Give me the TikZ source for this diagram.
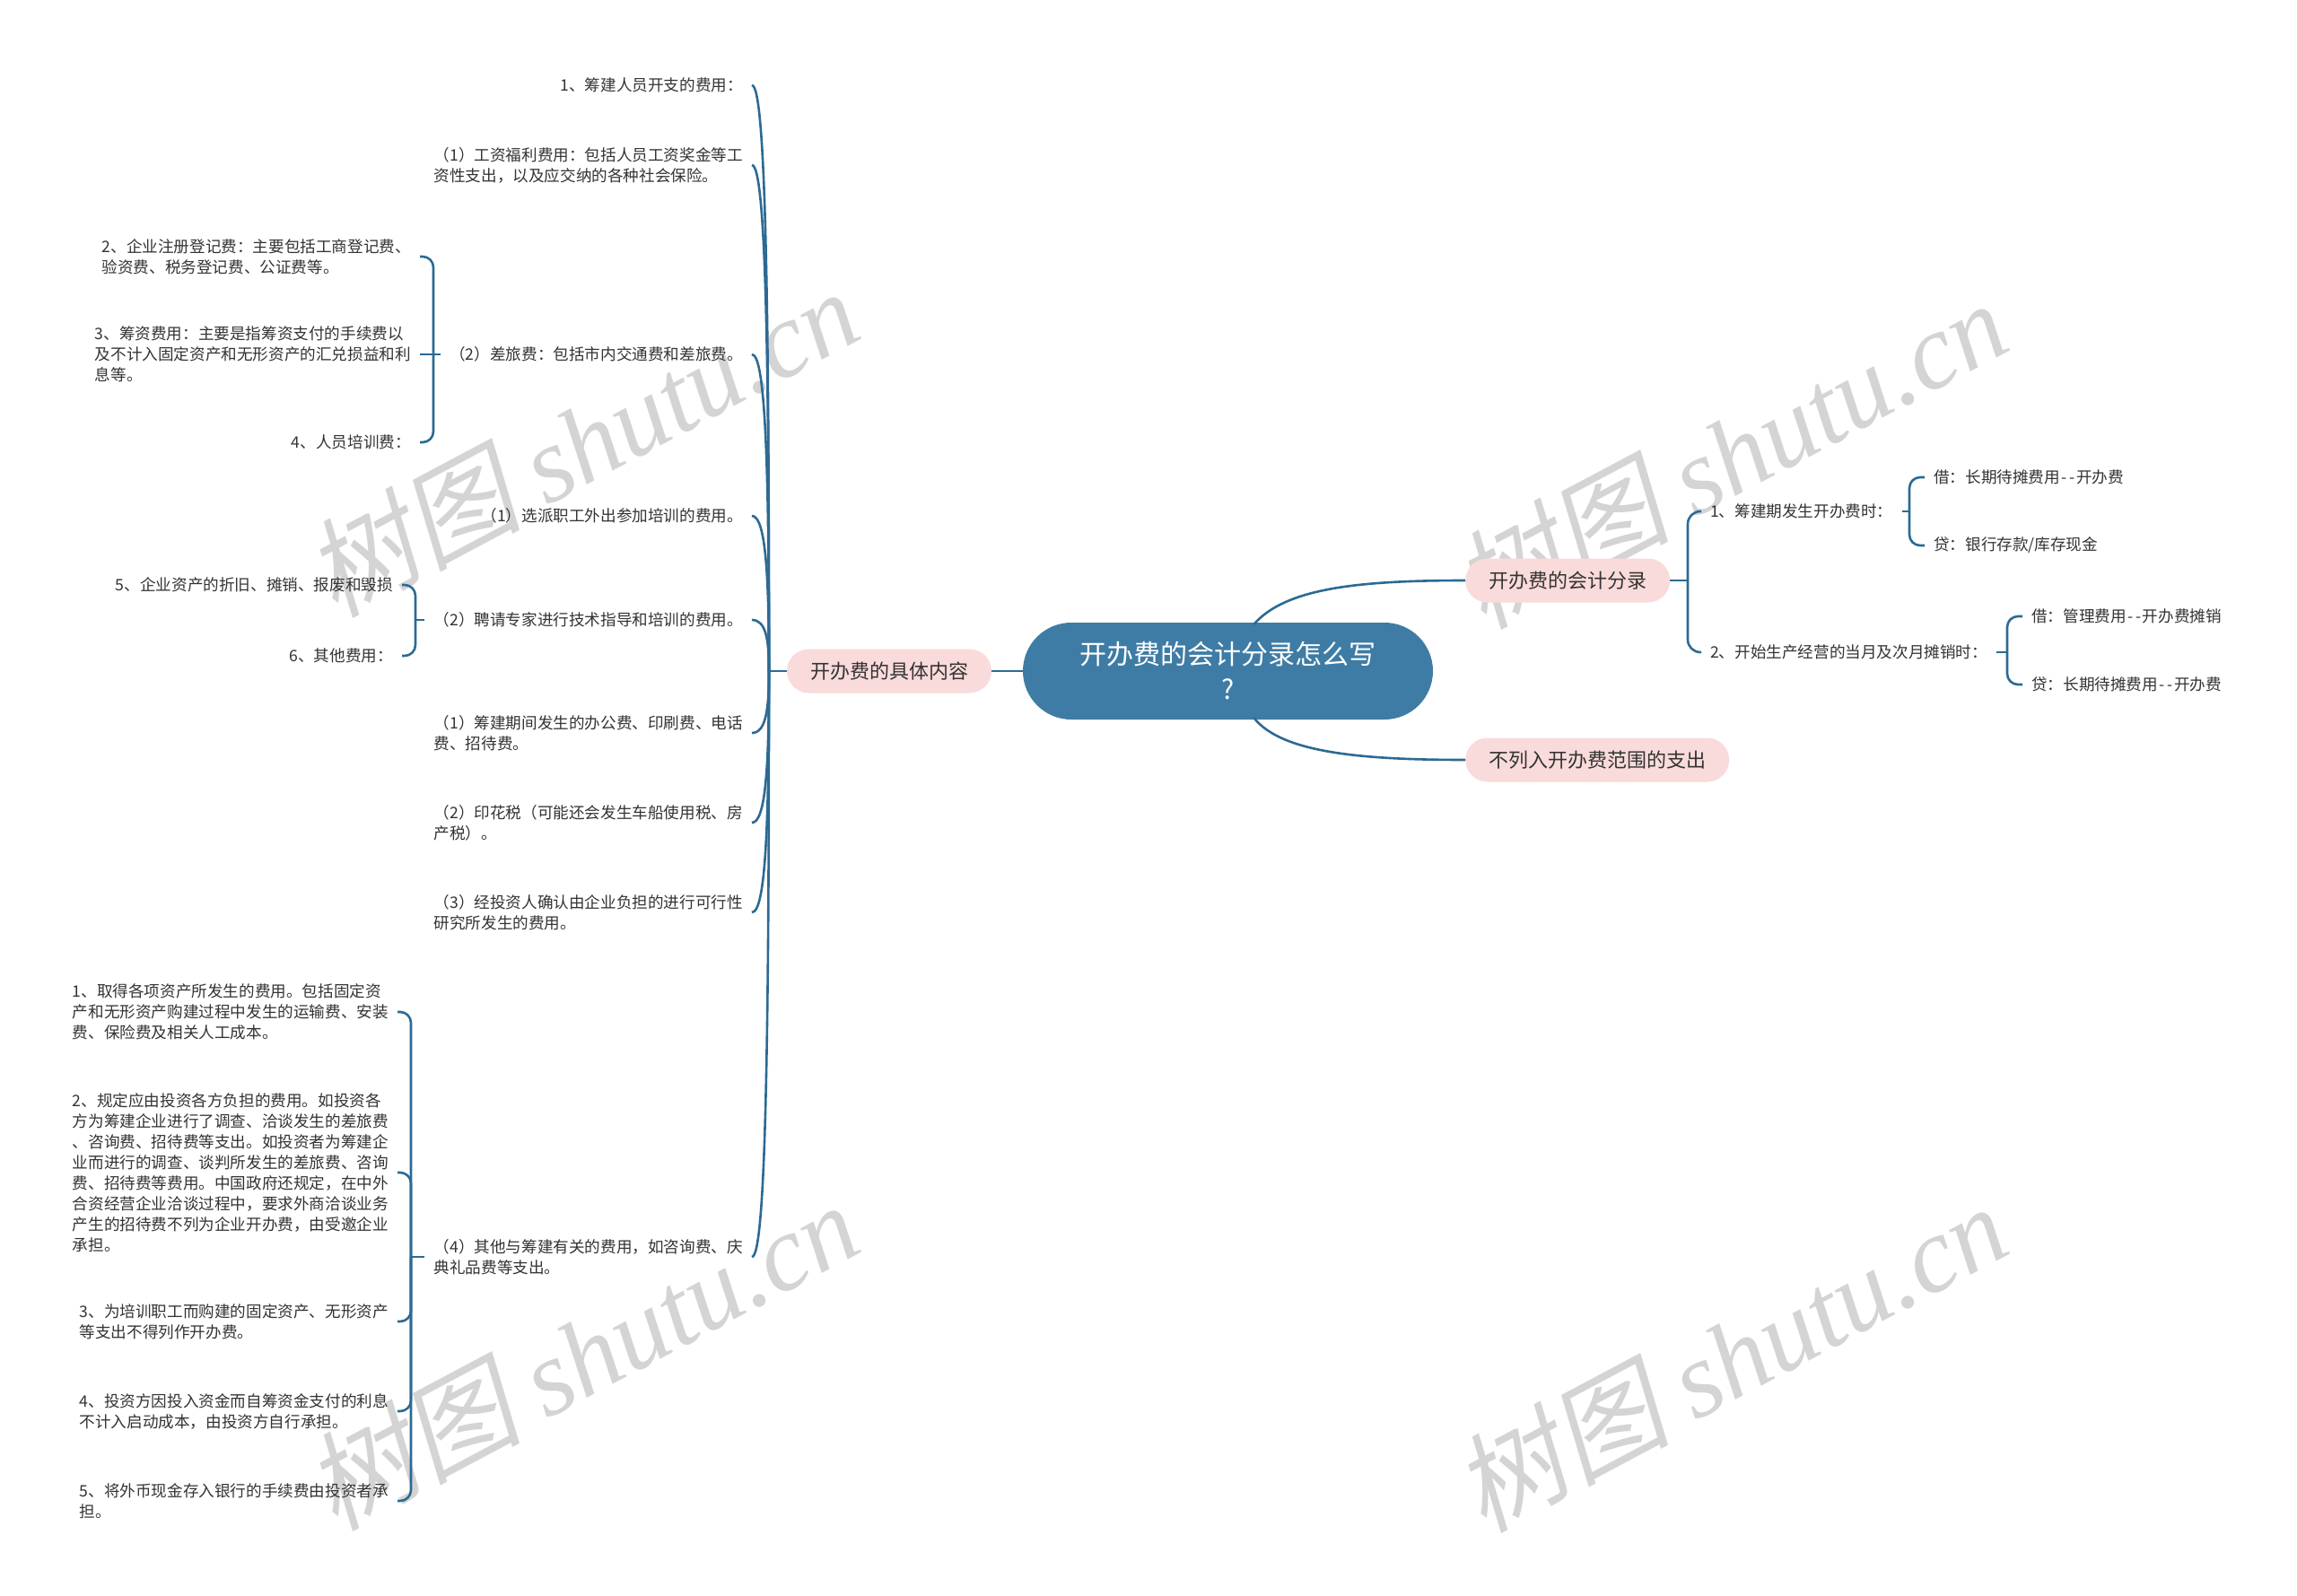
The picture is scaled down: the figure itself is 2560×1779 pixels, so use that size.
\documentclass[tikz,border=0pt]{standalone}
\usepackage{fontspec}
\usetikzlibrary{calc}
\setmainfont{Noto Sans CJK SC}
\newfontfamily\wmlat{Liberation Serif}
\newfontfamily\wmcjk{Noto Sans CJK SC}[FakeSlant=0.2]
\definecolor{lc}{HTML}{2C6A93}
\definecolor{rb}{HTML}{3E7CA5}
\definecolor{pk}{HTML}{FADBDB}
\definecolor{tc}{HTML}{333333}
\definecolor{wmc}{HTML}{D4D4D4}
\newcommand\mmleaf{\fontsize{17.6pt}{23pt}\selectfont}
\newcommand\mmtopic{\fontsize{22pt}{28pt}\selectfont}
\newcommand\mmroot{\fontsize{30pt}{39pt}\selectfont}
\newcommand\mmdd{\makebox[9pt]{-}\makebox[9pt]{-}}
\tikzset{
  conn/.style={draw=lc, line width=2.6pt},
  leafL/.style={font=\mmleaf, text=tc, align=left, inner xsep=10pt, inner ysep=2pt, anchor=east},
  leafR/.style={font=\mmleaf, text=tc, align=left, inner xsep=10pt, inner ysep=2pt, anchor=west},
  topic/.style={fill=pk, text=tc, font=\mmtopic, minimum height=49pt, inner xsep=26pt, inner ysep=0pt, rounded corners=24.5pt},
  rootnode/.style={fill=rb, text=white, font=\mmroot, align=center, minimum width=457pt, minimum height=108pt, rounded corners=54pt, inner sep=0pt},
  wm/.style={text=wmc, rotate=28, font=\fontsize{120pt}{130pt}\selectfont}
}
\begin{document}
\begin{tikzpicture}[x=1pt,y=-1pt]
\fill[white] (0,0) rectangle (2560,1779);
\useasboundingbox (0,0) rectangle (2560,1779);

% watermarks
\node[wm] (w1) at (648,492) {{\wmcjk 树图} {\wmlat\itshape shutu.cn}};
\node[wm] (w2) at (1928,505) {{\wmcjk 树图} {\wmlat\itshape shutu.cn}};
\node[wm] (w3) at (648,1510) {{\wmcjk 树图} {\wmlat\itshape shutu.cn}};
\node[wm] (w4) at (1928,1512) {{\wmcjk 树图} {\wmlat\itshape shutu.cn}};

% root and topics
\node[rootnode] (C) at (1368.5,748) {开办费的会计分录怎么写\\?};
\node[topic] (L) at (991,748) {开办费的具体内容};
\node[topic, anchor=west] (R) at (1633,647) {开办费的会计分录};
\node[topic, anchor=west] (R3) at (1633,847) {不列入开办费范围的支出};

\draw[conn] (C.west) -- (L.east);
\draw[conn] ($(C.north)+(29,2)$) .. controls +(35,-40) and +(-120,0) .. (R.west);
\draw[conn] ($(C.south)+(29,-2)$) .. controls +(30,38) and +(-120,0) .. (R3.west);

% left trunk
\coordinate (T) at (857,748);
\draw[conn] (L.west) -- (T);

\node[leafL] (A1) at (838,95) {1、筹建人员开支的费用：};
\node[leafL] (A2) at (838,184) {（1）工资福利费用：包括人员工资奖金等工\\资性支出，以及应交纳的各种社会保险。};
\node[leafL] (A3) at (838,395) {（2）差旅费：包括市内交通费和差旅费。};
\node[leafL] (A4) at (838,575) {（1）选派职工外出参加培训的费用。};
\node[leafL] (A5) at (838,691) {（2）聘请专家进行技术指导和培训的费用。};
\node[leafL] (A6) at (838,817) {（1）筹建期间发生的办公费、印刷费、电话\\费、招待费。};
\node[leafL] (A7) at (838,917) {（2）印花税（可能还会发生车船使用税、房\\产税）。};
\node[leafL] (A8) at (838,1017) {（3）经投资人确认由企业负担的进行可行性\\研究所发生的费用。};
\node[leafL] (A9) at (838,1401) {（4）其他与筹建有关的费用，如咨询费、庆\\典礼品费等支出。};

\draw[conn] (A1.east) .. controls +(16,0) and +(0,-390) .. (T);
\draw[conn] (A2.east) .. controls +(16,0) and +(0,-340) .. (T);
\draw[conn] (A3.east) .. controls +(16,0) and +(0,-210) .. (T);
\draw[conn] (A4.east) .. controls +(16,0) and +(0,-100) .. (T);
\draw[conn] (A5.east) .. controls +(16,0) and +(0,-34) .. (T);
\draw[conn] (A6.east) .. controls +(16,0) and +(0,41) .. (T);
\draw[conn] (A7.east) .. controls +(16,0) and +(0,100) .. (T);
\draw[conn] (A8.east) .. controls +(16,0) and +(0,160) .. (T);
\draw[conn] (A9.east) .. controls +(16,0) and +(0,390) .. (T);

% children of A3
\coordinate (bA3) at (483,395);
\node[leafL] (B1) at (468,286) {2、企业注册登记费：主要包括工商登记费、\\验资费、税务登记费、公证费等。};
\node[leafL] (B2) at (468,395) {3、筹资费用：主要是指筹资支付的手续费以\\及不计入固定资产和无形资产的汇兑损益和利\\息等。};
\node[leafL] (B3) at (468,493) {4、人员培训费：};
\draw[conn] (A3.west) -- (bA3);
\draw[conn, rounded corners=12pt] (B1.east) -| (bA3);
\draw[conn] (B2.east) -- (bA3);
\draw[conn, rounded corners=12pt] (B3.east) -| (bA3);

% children of A5
\coordinate (bA5) at (463,691);
\node[leafL] (C1) at (448,652) {5、企业资产的折旧、摊销、报废和毁损};
\node[leafL] (C2) at (448,731) {6、其他费用：};
\draw[conn] (A5.west) -- (bA5);
\draw[conn, rounded corners=12pt] (C1.east) -| (bA5);
\draw[conn, rounded corners=12pt] (C2.east) -| (bA5);

% children of A9
\coordinate (bA9) at (458,1401);
\node[leafL] (D1) at (443,1128) {1、取得各项资产所发生的费用。包括固定资\\产和无形资产购建过程中发生的运输费、安装\\费、保险费及相关人工成本。};
\node[leafL] (D2) at (443,1307) {2、规定应由投资各方负担的费用。如投资各\\方为筹建企业进行了调查、洽谈发生的差旅费\\、咨询费、招待费等支出。如投资者为筹建企\\业而进行的调查、谈判所发生的差旅费、咨询\\费、招待费等费用。中国政府还规定，在中外\\合资经营企业洽谈过程中，要求外商洽谈业务\\产生的招待费不列为企业开办费，由受邀企业\\承担。};
\node[leafL] (D3) at (443,1473) {3、为培训职工而购建的固定资产、无形资产\\等支出不得列作开办费。};
\node[leafL] (D4) at (443,1573) {4、投资方因投入资金而自筹资金支付的利息\\不计入启动成本，由投资方自行承担。};
\node[leafL] (D5) at (443,1673) {5、将外币现金存入银行的手续费由投资者承\\担。};
\draw[conn] (A9.west) -- (bA9);
\draw[conn, rounded corners=12pt] (D1.east) -| (bA9);
\draw[conn, rounded corners=12pt] (D2.east) -| (bA9);
\draw[conn, rounded corners=12pt] (D3.east) -| (bA9);
\draw[conn, rounded corners=12pt] (D4.east) -| (bA9);
\draw[conn, rounded corners=12pt] (D5.east) -| (bA9);

% right side
\coordinate (bR) at (1881,647);
\draw[conn] (R.east) -- (bR);
\node[leafR] (R1) at (1896,570) {1、筹建期发生开办费时：};
\node[leafR] (R2) at (1896,727) {2、开始生产经营的当月及次月摊销时：};
\draw[conn, rounded corners=14pt] (R1.west) -| (bR);
\draw[conn, rounded corners=14pt] (R2.west) -| (bR);

\coordinate (bR1) at (2128,570);
\node[leafR] (R1a) at (2145,532) {借：长期待摊费用\mmdd 开办费};
\node[leafR] (R1b) at (2145,608) {贷：银行存款/库存现金};
\draw[conn] (R1.east) -- (bR1);
\draw[conn, rounded corners=12pt] (R1a.west) -| (bR1);
\draw[conn, rounded corners=12pt] (R1b.west) -| (bR1);

\coordinate (bR2) at (2237,727);
\node[leafR] (R2a) at (2254,687) {借：管理费用\mmdd 开办费摊销};
\node[leafR] (R2b) at (2254,763) {贷：长期待摊费用\mmdd 开办费};
\draw[conn] (R2.east) -- (bR2);
\draw[conn, rounded corners=12pt] (R2a.west) -| (bR2);
\draw[conn, rounded corners=12pt] (R2b.west) -| (bR2);
\end{tikzpicture}
\end{document}
